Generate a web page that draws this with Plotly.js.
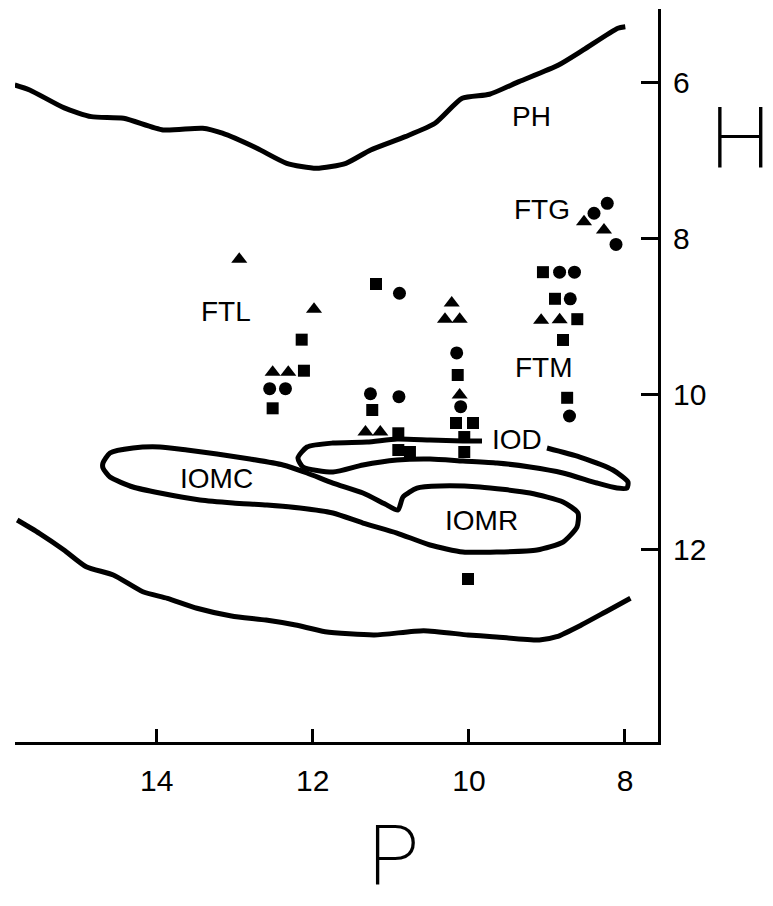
<!DOCTYPE html>
<html>
<head>
<meta charset="utf-8">
<script src="https://cdn.plot.ly/plotly-3.0.1.min.js"></script>
<style>
  html, body { margin: 0; padding: 0; background: #fff; }
  #chart { width: 773px; height: 906px; }
</style>
</head>
<body>
<div id="chart"></div>
<script>
// ---- Upper boundary curve (PH) ----
const phX = [15.818,15.627,15.184,14.837,14.424,13.918,13.411,13.158,12.715,12.334,11.954,11.575,11.258,10.815,10.434,10.086,9.737,9.358,8.851,8.534,8.091,7.996];
const phY = [6.026,6.09,6.321,6.433,6.454,6.604,6.582,6.646,6.839,7.032,7.096,7.032,6.861,6.690,6.518,6.197,6.145,5.983,5.769,5.576,5.297,5.277];

// ---- Lower boundary curve ----
const lowX = [15.787,15.503,15.188,14.903,14.556,14.177,13.862,13.484,13.042,12.600,12.220,11.842,11.211,10.580,10.012,9.696,9.097,8.875,8.560,8.245,7.930];
const lowY = [11.615,11.786,12.0,12.215,12.321,12.536,12.621,12.749,12.848,12.900,12.964,13.050,13.092,13.037,13.092,13.114,13.157,13.114,12.964,12.793,12.621];

// ---- IOMC + IOMR outline (closed) ----
const iomX = [14.688,14.598,14.303,13.958,13.612,13.227,12.805,12.382,12.074,11.741,11.357,11.075,10.908,10.844,10.665,10.370,9.858,9.217,8.794,8.602,8.615,8.794,9.127,9.640,10.076,10.498,10.921,11.357,11.741,12.164,12.587,13.022,13.445,13.958,14.303,14.598,14.688,14.688];
const iomY = [10.883,10.754,10.690,10.677,10.716,10.767,10.831,10.908,11.011,11.140,11.268,11.409,11.487,11.319,11.204,11.178,11.191,11.268,11.384,11.525,11.705,11.898,12.0,12.026,12.026,11.936,11.782,11.654,11.525,11.461,11.422,11.396,11.358,11.268,11.191,11.063,10.947,10.883];

// ---- IOD outline (open at its label) ----
const iodX = [8.999,8.577,8.154,7.962,7.974,8.102,8.359,8.794,9.217,9.640,10.076,10.498,10.921,11.357,11.741,12.125,12.190,12.074,11.741,11.305,10.921,10.498,10.076,9.832];
const iodY = [10.690,10.806,10.973,11.127,11.204,11.204,11.140,11.011,10.934,10.883,10.857,10.831,10.844,10.908,10.998,10.934,10.818,10.677,10.626,10.613,10.574,10.587,10.600,10.600];

// ---- Data points ----
const triX = [12.942,11.984,12.514,12.314,11.325,11.135,10.220,10.306,10.118,10.118,9.074,8.837,8.525,8.269];
const triY = [8.265,8.908,9.716,9.716,10.484,10.484,8.827,9.036,9.036,10.009,9.049,9.041,7.782,7.889];

const cirX = [12.552,12.350,10.889,11.261,10.896,10.156,10.105,8.838,8.647,8.701,8.711,8.397,8.227,8.115];
const cirY = [9.928,9.928,8.702,9.993,10.031,9.469,10.159,8.431,8.431,8.773,10.279,7.674,7.546,8.075];

const sqX = [12.142,12.113,12.514,11.190,11.238,10.904,10.904,10.755,10.143,10.165,9.947,10.059,10.059,9.051,8.897,8.611,8.794,8.741,10.011];
const sqY = [9.298,9.697,10.180,8.583,10.202,10.501,10.716,10.741,9.752,10.369,10.369,10.549,10.741,8.431,8.773,9.035,9.302,10.045,12.373];

// ---- Region labels ----
const labelText = ["PH","FTG","FTL","FTM","IOD","IOMC","IOMR"];
const labelX = [9.204,9.067,13.112,9.038,9.388,13.231,9.836];
const labelY = [6.437,7.632,8.939,9.662,10.587,11.088,11.615];

// ---- Axes ----
const xTicks = [14,12,10,8];
const xTickText = ["14","12","10","8"];
const yTicks = [6,8,10,12];
const yTickText = ["6","8","10","12"];
const xTitle = "P";
const yTitle = "H";

const lineStyle = {color:'#000', width:5, shape:'spline', smoothing:0.6};
const traces = [
  {x:phX, y:phY, mode:'lines', line:lineStyle, hoverinfo:'skip'},
  {x:lowX, y:lowY, mode:'lines', line:lineStyle, hoverinfo:'skip'},
  {x:iomX, y:iomY, mode:'lines', line:lineStyle, hoverinfo:'skip'},
  {x:iodX, y:iodY, mode:'lines', line:lineStyle, hoverinfo:'skip'},
  {x:triX, y:triY, mode:'markers', marker:{symbol:'triangle-up', size:14, color:'#000'}},
  {x:cirX, y:cirY, mode:'markers', marker:{symbol:'circle', size:13, color:'#000'}},
  {x:sqX, y:sqY, mode:'markers', marker:{symbol:'square', size:12, color:'#000'}}
];

const lblFont = {family:'Liberation Sans, Arial, sans-serif', size:28, color:'#000'};
const annotations = labelText.map((t,i)=>({
  x: labelX[i], y: labelY[i], xref:'x', yref:'y', text:t, showarrow:false,
  xanchor:'center', yanchor:'middle', font: lblFont
}));
// big axis letter under the x axis
annotations.push({
  x: 0.589, y: 0, xref:'paper', yref:'paper', yshift:-63,
  text: xTitle, showarrow:false, xanchor:'center', yanchor:'top',
  font:{family:'Roboto, Lato, sans-serif', size:84, weight:200, color:'#000'}
});
// big axis letter right of the y axis
annotations.push({
  x: 1.0, y: 0.824, xref:'paper', yref:'paper', xshift:50,
  text: yTitle, showarrow:false, xanchor:'left', yanchor:'middle',
  font:{family:'Roboto, Lato, sans-serif', size:86, weight:200, color:'#000'}
});

const tickFont = {family:'Liberation Sans, Arial, sans-serif', size:30, color:'#000'};
const layout = {
  width:773, height:906,
  margin:{l:15, r:115, t:9, b:164},
  paper_bgcolor:'#fff', plot_bgcolor:'#fff',
  showlegend:false,
  xaxis:{
    range:[15.815, 7.577], autorange:false,
    tickvals:xTicks, ticktext:xTickText,
    ticks:'inside', ticklen:13, tickwidth:3, tickcolor:'#000',
    showline:true, linewidth:3, linecolor:'#000', mirror:false,
    showgrid:false, zeroline:false,
    tickfont:tickFont, ticklabelstandoff:10
  },
  yaxis:{
    range:[14.467, 5.05], autorange:false, side:'right',
    tickvals:yTicks, ticktext:yTickText,
    ticks:'inside', ticklen:17, tickwidth:3, tickcolor:'#000',
    showline:true, linewidth:3, linecolor:'#000', mirror:false,
    showgrid:false, zeroline:false,
    tickfont:tickFont, ticklabelstandoff:6
  },
  annotations: annotations
};

Plotly.newPlot('chart', traces, layout, {staticPlot:true, displayModeBar:false});
</script>
</body>
</html>
